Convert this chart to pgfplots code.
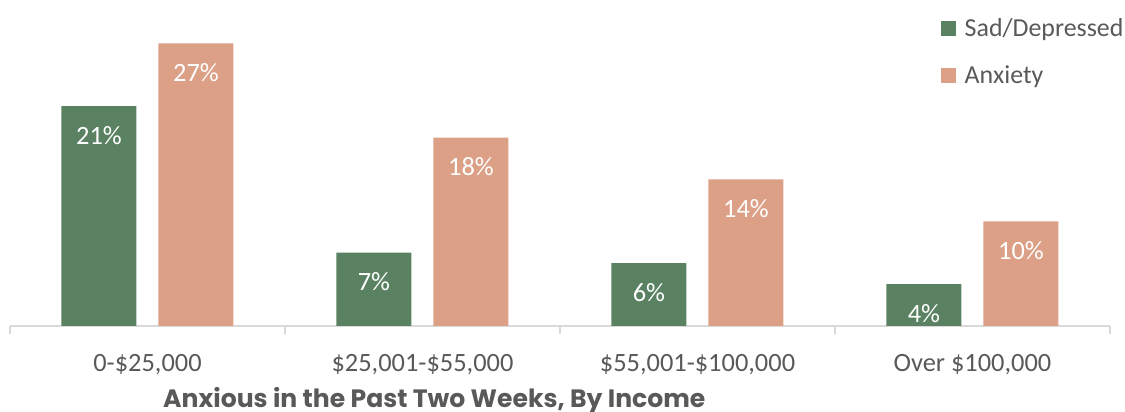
\documentclass[border=0pt]{standalone}
\usepackage{pgfplots}
\pgfplotsset{compat=1.18}
\usepackage{fontspec}
\setmainfont{Carlito}
\newfontfamily\titlefont{Poppins}
\definecolor{sadgreen}{HTML}{5A8262}
\definecolor{anxorange}{HTML}{DCA087}
\definecolor{txtgrey}{HTML}{595959}
\definecolor{axgrey}{HTML}{D9D9D9}
\begin{document}
\begin{tikzpicture}
\useasboundingbox (0,0) rectangle (1125bp,412bp);
\begin{axis}[
  at={(10bp,86bp)}, anchor=south west,
  scale only axis, width=1100bp, height=314bp,
  xmin=-0.5, xmax=3.5, ymin=0, ymax=30,
  axis y line=none,
  axis x line*=bottom,
  x axis line style={axgrey, line width=1.2bp},
  xtick={0,1,2,3},
  xticklabels={0-\$25{,}000,\$25{,}001-\$55{,}000,\$55{,}001-\$100{,}000,Over \$100{,}000},
  major tick length=0pt,
  minor xtick={-0.5,0.5,1.5,2.5,3.5},
  minor tick length=8bp,
  minor tick style={axgrey, line width=1.2bp},
  tick pos=lower, tick align=outside,
  xticklabel style={font=\fontsize{26.5}{30}\selectfont, text=txtgrey, anchor=base, yshift=-45bp},
  /pgf/number format/assume math mode=true,
  ybar, bar width=75bp,
  nodes near coords={\pgfmathprintnumber{\pgfplotspointmeta}\%},
  nodes near coords style={font=\fontsize{26.5}{30}\selectfont, text=white, anchor=base, yshift=-38bp},
  legend style={draw=none, fill=none, at={(0.846,0.985)}, anchor=north west, inner sep=0pt,
    font=\fontsize{26}{30}\selectfont, text=txtgrey, row sep=23bp,
    /tikz/every odd column/.style={inner sep=0pt}},
  legend cell align=left,
  legend image code/.code={\fill[#1] (0bp,-7.5bp) rectangle (15bp,7.5bp);},
]
\addplot[fill=sadgreen, draw=none, bar shift=-48.5bp] coordinates {(0,21) (1,7) (2,6) (3,4)};
\addplot[fill=anxorange, draw=none, bar shift=48.5bp] coordinates {(0,27) (1,18) (2,14) (3,10)};
\legend{\hspace{7bp}Sad/Depressed, \hspace{7bp}Anxiety}
\end{axis}
\node[anchor=base west, inner sep=0pt, text=txtgrey, font=\titlefont\bfseries\fontsize{25.2}{30}\selectfont] at (163bp,5bp) {Anxious in the Past Two Weeks, By Income};
\end{tikzpicture}
\end{document}
